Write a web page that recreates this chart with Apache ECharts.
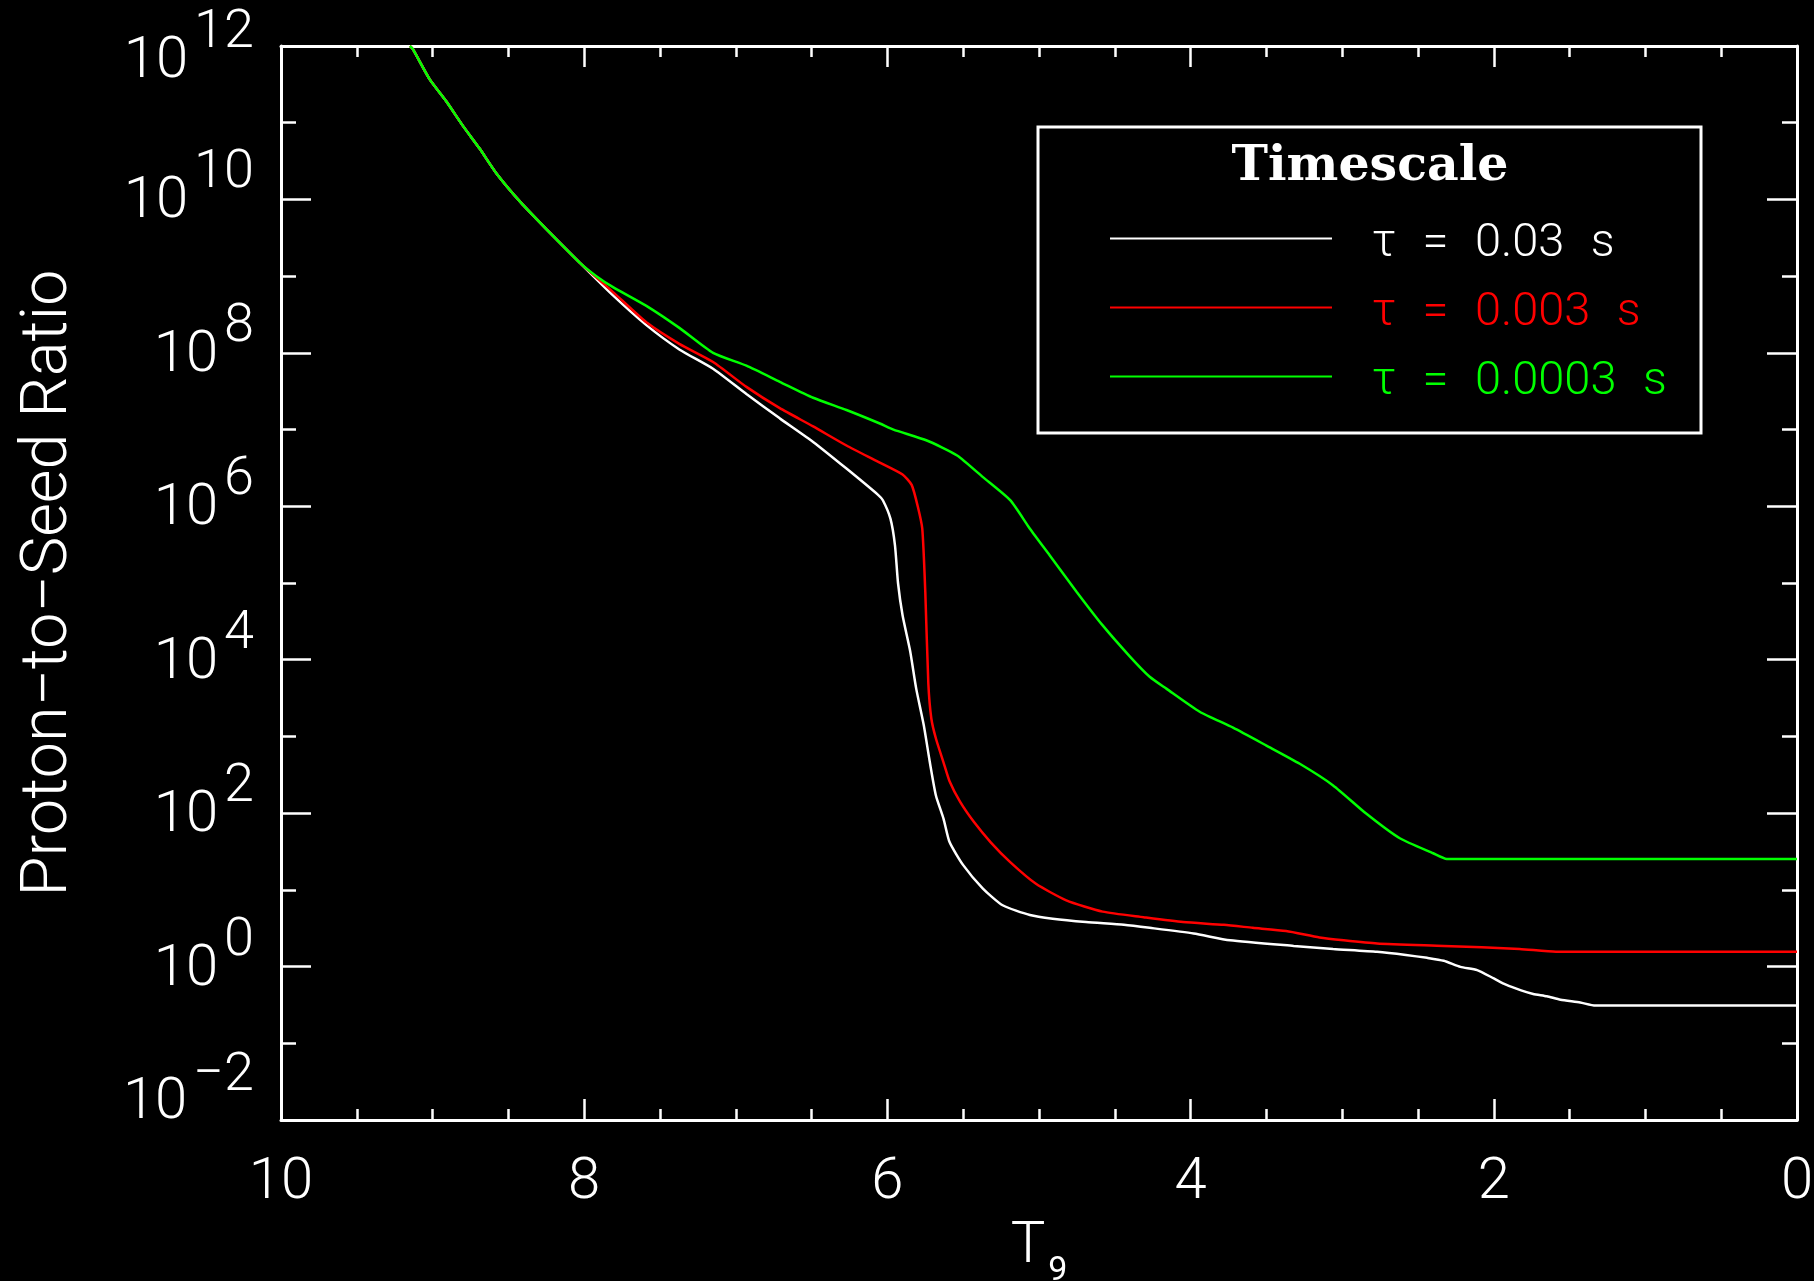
<!DOCTYPE html>
<html>
<head>
<meta charset="utf-8">
<title>Proton-to-Seed Ratio vs T9</title>
<script src="https://cdn.jsdelivr.net/npm/echarts@6/dist/echarts.min.js"></script>
<style>
  html, body { margin: 0; padding: 0; background: #000; }
  #chart { width: 1814px; height: 1281px; }
</style>
</head>
<body>
<div id="chart"></div>
<script>
// Series labels (legend order); figure spaces keep the wide typewriter-like spacing
const seriesNames = ['\u03c4\u2007=\u20070.03\u2007s', '\u03c4\u2007=\u20070.003\u2007s', '\u03c4\u2007=\u20070.0003\u2007s'];
const seriesColors = ['#ffffff', '#ff0000', '#00ff00'];

// Hot phase shared by all three timescales
const sharedT9 = [9.15, 9.13, 9.02, 8.91, 8.80, 8.69, 8.58, 8.42, 8.25, 8.03];
const sharedRatio = [1.0e12, 9.1e11, 3.7e11, 1.9e11, 9.1e10, 4.6e10, 2.2e10, 9.2e9, 4.1e9, 1.5e9];

// tau = 0.03 s
const slowT9 = [7.81, 7.59, 7.37, 7.15, 6.93, 6.71, 6.49, 6.27, 6.06, 6.03,
                5.98, 5.95, 5.93, 5.90, 5.85, 5.81, 5.76, 5.72, 5.68, 5.63,
                5.59, 5.50, 5.37, 5.24, 5.06, 4.91, 4.69, 4.44, 4.27, 3.98,
                3.74, 3.32, 3.06, 2.77, 2.58, 2.44, 2.33, 2.22, 2.11, 2.00,
                1.92, 1.82, 1.74, 1.65, 1.56, 1.43, 1.33, 0];
const slowRatio = [5.6e8, 2.3e8, 1.1e8, 6.2e7, 2.9e7, 1.4e7, 6.9e6, 3.1e6, 1.4e6, 1.2e6,
                   6.9e5, 3.1e5, 1.0e5, 3.8e4, 1.3e4, 4.2e3, 1.4e3, 4.6e2, 1.7e2, 85,
                   42, 21, 10.4, 6.3, 4.7, 4.2, 3.8, 3.5, 3.2, 2.7,
                   2.2, 1.86, 1.70, 1.56, 1.42, 1.30, 1.19, 0.99, 0.90, 0.70,
                   0.58, 0.49, 0.44, 0.41, 0.37, 0.34, 0.31, 0.31];

// tau = 0.003 s
const midT9 = [7.81, 7.59, 7.37, 7.15, 6.93, 6.71, 6.49, 6.27, 6.06, 5.90,
               5.84, 5.80, 5.77, 5.75, 5.73, 5.71, 5.68, 5.63, 5.59, 5.52,
               5.43, 5.32, 5.19, 5.02, 4.82, 4.58, 4.31, 4.05, 3.78, 3.59,
               3.37, 3.15, 2.99, 2.77, 2.33, 1.83, 1.59, 0];
const midRatio = [6.2e8, 2.5e8, 1.3e8, 7.6e7, 3.6e7, 1.9e7, 1.1e7, 6.2e6, 3.8e6, 2.6e6,
                  1.9e6, 1.0e6, 5.1e5, 7.6e4, 4.9e3, 1.7e3, 9.4e2, 4.6e2, 2.6e2, 1.4e2,
                  77, 42, 23, 12, 7.3, 5.2, 4.4, 3.8, 3.5, 3.2,
                  2.9, 2.4, 2.2, 2.0, 1.86, 1.70, 1.56, 1.56];

// tau = 0.0003 s
const fastT9 = [7.92, 7.81, 7.59, 7.37, 7.15, 6.93, 6.71, 6.49, 6.27, 6.05,
                5.96, 5.74, 5.54, 5.37, 5.19, 5.06, 4.93, 4.75, 4.58, 4.40,
                4.27, 4.16, 3.94, 3.72, 3.50, 3.28, 3.06, 2.84, 2.62, 2.40,
                2.31, 0];
const fastRatio = [1.0e9, 7.2e8, 4.1e8, 2.1e8, 1.0e8, 6.8e7, 4.2e7, 2.6e7, 1.8e7, 1.2e7,
                   1.0e7, 7.2e6, 4.6e6, 2.4e6, 1.2e6, 5.1e5, 2.3e5, 7.6e4, 2.8e4, 1.1e4,
                   6.0e3, 4.2e3, 2.1e3, 1.3e3, 7.6e2, 4.4e2, 2.3e2, 98, 47, 30,
                   25.3, 25.3];

// Axis ranges / ticks
const t9Range = [0, 10];
const t9Step = 2;
const decadeRange = [-2, 12];   // powers of ten on the ratio axis
const decadeStep = 2;

// The ratio axis is laid out in decades: each value is placed at log10(value)
function toPoints(tList, rList) {
  const pts = [];
  for (let i = 0; i < tList.length; i++) pts.push([tList[i], Math.log10(rList[i])]);
  return pts;
}
const curves = [
  toPoints(sharedT9.concat(slowT9), sharedRatio.concat(slowRatio)),
  toPoints(sharedT9.concat(midT9), sharedRatio.concat(midRatio)),
  toPoints(sharedT9.concat(fastT9), sharedRatio.concat(fastRatio))
];

const FONT = 'Roboto, "Open Sans", "DejaVu Sans", sans-serif';
const WHITE = '#ffffff';

function decadeLabel(v) {
  const n = Math.round(v);
  const key = n === decadeRange[1] ? 'Top' : (n === decadeRange[0] ? 'Low' : '');
  const exp = n < 0 ? '\u2212' + (-n) : String(n);
  return '{b' + key + '|10}{e' + key + '|' + exp + '}';
}

const baseTok = { color: WHITE, fontFamily: FONT, fontWeight: 300, fontSize: 58, lineHeight: 58 };
const expTok = { color: WHITE, fontFamily: FONT, fontWeight: 300, fontSize: 54, lineHeight: 58 };

function xAxisDef(pos, showLabels) {
  return {
    type: 'value', position: pos, inverse: true,
    min: t9Range[0], max: t9Range[1], interval: t9Step,
    axisLine: { show: true, onZero: false, lineStyle: { color: WHITE, width: 3 } },
    axisTick: { show: true, inside: true, length: 21, lineStyle: { color: WHITE, width: 2.5 } },
    minorTick: { show: true, splitNumber: 4, length: 11, lineStyle: { color: WHITE, width: 2.5 } },
    splitLine: { show: false },
    axisLabel: {
      show: showLabels, color: WHITE, fontFamily: FONT, fontWeight: 300, fontSize: 58,
      lineHeight: 58, margin: 63, verticalAlign: 'middle'
    },
    name: showLabels ? '{t|T}{s|9}' : '',
    nameLocation: 'middle', nameGap: 98,
    nameTextStyle: {
      rich: {
        t: { color: WHITE, fontFamily: FONT, fontWeight: 300, fontSize: 58, lineHeight: 60, verticalAlign: 'top' },
        s: { color: WHITE, fontFamily: FONT, fontWeight: 400, fontSize: 34, lineHeight: 38, padding: [36, 0, 0, 3], verticalAlign: 'top' }
      }
    }
  };
}

function yAxisDef(pos, showLabels) {
  return {
    type: 'value', position: pos,
    min: decadeRange[0], max: decadeRange[1], interval: decadeStep,
    axisLine: { show: true, onZero: false, lineStyle: { color: WHITE, width: 3 } },
    axisTick: { show: true, inside: true, length: 30, lineStyle: { color: WHITE, width: 2.5 } },
    minorTick: { show: true, splitNumber: 2, length: 15, lineStyle: { color: WHITE, width: 2.5 } },
    splitLine: { show: false },
    axisLabel: {
      show: showLabels, margin: 27, formatter: decadeLabel,
      rich: {
        b: Object.assign({}, baseTok, { padding: [29, 0, 22, 0] }),
        e: Object.assign({}, expTok, { padding: [0, 0, 51, 6] }),
        bTop: Object.assign({}, baseTok, { padding: [33.5, 0, 0, 0] }),
        eTop: Object.assign({}, expTok, { padding: [4.5, 0, 29, 6] }),
        bLow: Object.assign({}, baseTok, { padding: [27, 0, 60.5, 0] }),
        eLow: Object.assign({}, expTok, { padding: [0, 0, 87.5, 6] })
      }
    },
    name: showLabels ? 'Proton\u2212to\u2212Seed Ratio' : '',
    nameLocation: 'middle', nameGap: 199,
    nameTextStyle: { color: WHITE, fontFamily: FONT, fontWeight: 300, fontSize: 65, lineHeight: 64 }
  };
}

const chart = echarts.init(document.getElementById('chart'), null, { renderer: 'canvas' });

const option = {
  backgroundColor: '#000000',
  animation: false,
  grid: { left: 281, right: 17, top: 46, bottom: 161, containLabel: false, outerBoundsMode: 'none' },
  xAxis: [xAxisDef('bottom', true), xAxisDef('top', false)],
  yAxis: [yAxisDef('left', true), yAxisDef('right', false)],
  legend: {
    orient: 'vertical', left: 1109, top: 209, padding: 0,
    itemWidth: 222, itemHeight: 46, itemGap: 10,
    selectedMode: false,
    itemStyle: { opacity: 0 },
    formatter: name => '{t|' + name + '}',
    textStyle: {
      fontFamily: FONT, fontWeight: 300, fontSize: 47, padding: [0, 0, 0, 35],
      rich: { t: { fontFamily: FONT, fontWeight: 300, fontSize: 47, lineHeight: 46, padding: [12, 0, 0, 0] } }
    },
    data: seriesNames.map((n, i) => ({ name: n, textStyle: { color: seriesColors[i] } }))
  },
  graphic: [
    {
      type: 'rect', silent: true,
      shape: { x: 1038, y: 127, width: 663, height: 306 },
      style: { fill: 'none', stroke: WHITE, lineWidth: 3 }
    },
    {
      type: 'text', silent: true, x: 1370, y: 167,
      style: {
        text: 'Timescale', fill: WHITE, align: 'center', verticalAlign: 'middle',
        font: 'bold 49px "DejaVu Serif", "Liberation Serif", serif'
      }
    }
  ],
  series: curves.map((pts, i) => ({
    name: seriesNames[i],
    type: 'line',
    data: pts,
    xAxisIndex: 0, yAxisIndex: 0,
    symbol: 'none', showSymbol: false,
    smooth: 0.2,
    clip: true,
    lineStyle: { color: seriesColors[i], width: 2.5 },
    itemStyle: { color: seriesColors[i] },
    z: 2 + i
  }))
};

chart.setOption(option);
</script>
</body>
</html>
